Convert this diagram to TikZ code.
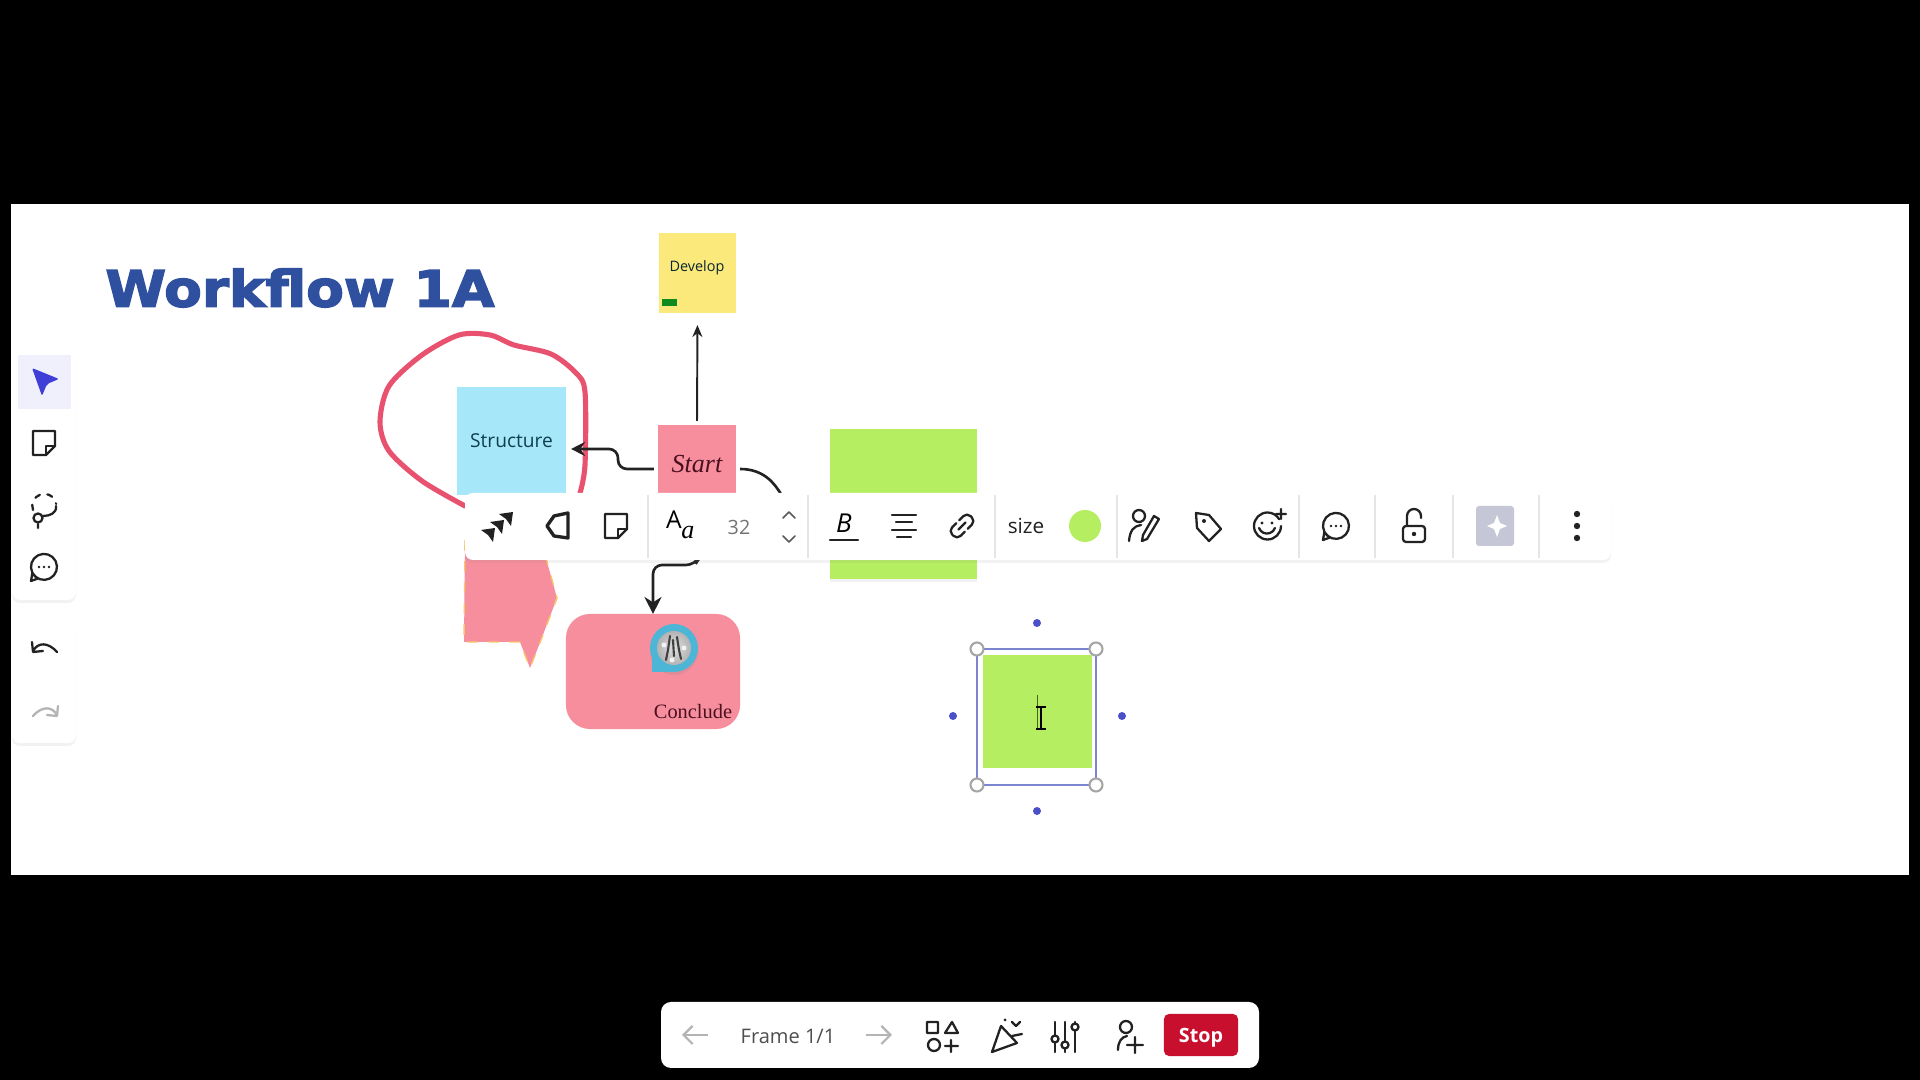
\documentclass[tikz,border=0pt]{standalone}
\usepackage{fontspec}
\setmainfont{Open Sans}
\newfontfamily\titlefont[BoldFeatures={FakeBold=3,FakeStretch=1.10}]{DejaVu Sans}
\newfontfamily\seriffont{Liberation Serif}
\usepackage{tikz}
\usetikzlibrary{arrows.meta,shadows}
\definecolor{boardblue}{HTML}{2F4F9F}
\definecolor{stickyyellow}{HTML}{FBE97C}
\definecolor{stickypink}{HTML}{F78E9E}
\definecolor{stickycyan}{HTML}{A6E7FA}
\definecolor{stickygreen}{HTML}{B6EE62}
\definecolor{marker}{HTML}{0E8A1E}
\definecolor{loopred}{HTML}{E8526F}
\definecolor{edgeorange}{HTML}{F9C46A}
\definecolor{framelilac}{HTML}{7C85D0}
\definecolor{dotblue}{HTML}{4A50C8}
\definecolor{pickblue}{HTML}{3F3FD8}
\definecolor{stopred}{HTML}{C8102E}
\definecolor{iconink}{HTML}{222222}
\definecolor{icongrey}{HTML}{B4B4B4}
\definecolor{avatarblue}{HTML}{4DB6D6}
\definecolor{inkteal}{HTML}{0F3F4F}
\definecolor{inkmaroon}{HTML}{4A1020}
\definecolor{sparkgrey}{HTML}{C5C6D6}
\tikzset{
	sticky/.style={inner sep=0, outer sep=0, rectangle},
	caption/.style={inner sep=0, font=\fontsize{5.3}{6}\selectfont},
	flow/.style={draw=iconink, line width=0.75pt, rounded corners=0.09cm},
	panel/.style={fill=white, rounded corners=0.08cm, drop shadow={opacity=0.10, shadow xshift=0cm, shadow yshift=-0.03cm}},
	icon/.style={draw=iconink, line width=0.65pt, line cap=round, line join=round},
	handle/.style={circle, draw=gray!70, fill=white, line width=0.6pt, inner sep=0, minimum size=0.13cm},
	dotmark/.style={circle, fill=dotblue, inner sep=0, minimum size=0.08cm},
	divider/.style={draw=gray!20, line width=0.3pt},
}
\newcommand{\stickyicon}[2]{
	\draw[icon] (#1-11,#2-12) -- (#1+11,#2-12) -- (#1+11,#2+3) -- (#1+2,#2+12) -- (#1-11,#2+12) -- cycle;
	\draw[icon] (#1+11,#2+3) -- (#1+2,#2+3) -- (#1+2,#2+12);
}
\newcommand{\commenticon}[2]{
	\draw[icon] (#1-11.6,#2+5.8) arc (153:-243:13) -- (#1-13,#2+14) -- cycle;
	\foreach \dotx in {-5,0,5} \fill[iconink] (#1+\dotx,#2) circle (1.3);
}
\begin{document}
\begin{tikzpicture}[x=0.01cm, y=-0.01cm]
	\useasboundingbox (0,0) rectangle (1920,1080);
	\fill[black] (0,0) rectangle (1920,1080);
	\fill[white] (11,204) rectangle (1909,875);
	%
	\node[inner sep=0, text=boardblue, font=\titlefont\bfseries\fontsize{14.2}{15}\selectfont] (title) at (300,288) {Workflow 1A};
	%
	% stickies
	\node[sticky, fill=stickyyellow, minimum width=0.77cm, minimum height=0.80cm] (develop) at (697.5,273) {};
	\node[caption, font=\fontsize{4.1}{5}\selectfont, text=inkteal!60!black] (developtext) at (697,268) {Develop};
	\fill[marker] (662,299) rectangle (677,306);
	\node[sticky, fill=stickycyan, minimum width=1.09cm, minimum height=1.08cm] (structure) at (511.5,441) {\fontsize{5.45}{6}\selectfont\color{inkteal}Structure};
	\node[sticky, fill=stickypink, minimum width=0.78cm, minimum height=0.78cm] (start) at (697,464) {\seriffont\itshape\fontsize{7.4}{8}\selectfont\color{inkmaroon}Start};
	\node[sticky, fill=stickygreen, minimum width=1.47cm, minimum height=1.50cm, drop shadow={opacity=0.10, shadow xshift=0cm, shadow yshift=-0.03cm}] (middle) at (903.5,504) {};
	\node[sticky, fill=stickypink, rounded corners=0.24cm, minimum width=1.74cm, minimum height=1.15cm] (conclude) at (653,671.5) {};
	\node[caption, font=\seriffont\fontsize{5.8}{6}\selectfont, text=inkmaroon] (concludetext) at (693,712) {Conclude};
	\node[sticky, fill=stickygreen, minimum width=1.09cm, minimum height=1.13cm] (selected) at (1037.5,711.5) {};
	%
	% torn shape
	\filldraw[fill=stickypink, draw=edgeorange, dashed, line width=0.4pt] (465,540) -- (464,642) -- (520,642) -- (530,668) -- (541,640) -- (557,598) -- (541,540) -- cycle;
	%
	% avatar
	\fill[avatarblue, drop shadow={opacity=0.2, shadow xshift=0cm, shadow yshift=-0.03cm}] (674,648) circle (24);
	\fill[avatarblue] (652,648) rectangle (672,672);
	\shade[inner color=gray!25, outer color=gray!60] (674,648) circle (17);
	\draw[gray!50!black, line width=0.6pt, line cap=round] (670,636) -- (668,650) -- (666,660) (677,637) -- (679,650) -- (681,659) (673,640) -- (674,656);
	\fill[gray!10] (664,645) circle (2.5) (684,648) circle (2.5) (672,660) circle (2.5);
	%
	% loop round the blue sticky
	\draw[loopred, line width=1.45pt, line cap=round] plot[smooth] coordinates {(465,506) (422,481) (389,451) (380,422) (389,386) (422,355) (459,335) (490,335) (514,345) (551,354) (576,373) (585,392) (585,465) (580,493)};
	%
	% connectors
	\draw[flow, line width=0.55pt, -{Stealth[length=0.12cm, width=0.10cm]}, shorten <=0.04cm, shorten >=0.12cm] (start.north) -- (develop.south);
	\draw[flow, -{Stealth[length=0.14cm, width=0.14cm]}, shorten <=0.04cm, shorten >=0.05cm] ([yshift=-0.05cm]start.west) -- (618,469) -- (618,449) -- ([yshift=-0.08cm]structure.east);
	\draw[flow, -{Stealth[length=0.17cm, width=0.17cm]}, shorten <=0.04cm] ([yshift=-0.05cm]start.east) .. controls (765,469) and (775,485) .. (785,500) .. controls (800,530) and (720,540) .. (700,556) -- (695,565) -- (653,565) -- (conclude.north);
	%
	% selection frame
	\draw[framelilac, line width=0.55pt] (977,649) rectangle (1096,785);
	\node[handle] (handlea) at (977,649) {};
	\node[handle] (handleb) at (1096,649) {};
	\node[handle] (handlec) at (977,785) {};
	\node[handle] (handled) at (1096,785) {};
	\node[dotmark] (dotn) at (1037,623) {};
	\node[dotmark] (dots) at (1037,811) {};
	\node[dotmark] (dotw) at (953,716) {};
	\node[dotmark] (dote) at (1122,716) {};
	\draw[black!60!stickygreen, line width=0.25pt] (1037,695) -- (1037,730);
	\draw[black, line width=0.35pt] (1041,708) -- (1041,728) (1036,707) -- (1046,707) (1036,729) -- (1046,729);
	%
	% floating toolbar
	\fill[panel] (465,493) rectangle (1611,560);
	\foreach \sepx in {648,808,995,1117,1299,1375,1453,1539}
		\draw[divider] (\sepx,495) -- (\sepx,558);
	\fill[iconink] (495,528) -- (481,530) -- (488,535) -- (493,542) -- cycle;
	\fill[iconink] (504,520) -- (490,522) -- (497,527) -- (502,534) -- cycle;
	\fill[iconink] (513,512) -- (499,514) -- (506,519) -- (511,526) -- cycle;
	\draw[icon, line width=0.95pt] (547,526) -- (554,516) -- (568,513) -- (568,538) -- (554,536) -- cycle;
	\stickyicon{616}{526}
	\node[inner sep=0, font=\fontsize{7}{8}\selectfont] (fonta) at (674,520) {A};
	\node[inner sep=0, font=\seriffont\itshape\fontsize{7.4}{8}\selectfont] (fontb) at (688,533) {a};
	\node[inner sep=0, text=gray!90!black, font=\fontsize{5.6}{6}\selectfont] (fontsize) at (739,527) {32};
	\draw[icon, gray!70!black, line width=0.45pt] (783,518) -- (789,512) -- (795,518) (783,536) -- (789,542) -- (795,536);
	\node[inner sep=0, font=\itshape\fontsize{7.4}{8}\selectfont] (bold) at (844,523) {B};
	\draw[icon] (830,540) -- (858,540);
	\draw[icon] (892,515) -- (916,515) (896,522) -- (912,522) (892,530) -- (916,530) (897,537) -- (911,537);
	\draw[icon, rotate around={45:(962,526)}, rounded corners=0.05cm] (960,520) -- (949,520) -- (949,532) -- (960,532) (964,520) -- (975,520) -- (975,532) -- (964,532);
	\draw[icon, rotate around={45:(962,526)}] (957,526) -- (967,526);
	\node[inner sep=0, text=iconink, font=\fontsize{5.9}{6}\selectfont] (sizetext) at (1026,526) {size};
	\fill[stickygreen] (1085,526) circle (16);
	\draw[icon] (1139,516) circle (6) (1129,541) .. controls (1130,530) and (1134,526) .. (1141,525) (1159,519) -- (1147,539) -- (1142,541) -- (1143,535) -- (1154,516) -- cycle;
	\draw[icon] (1196,513) -- (1209,515) -- (1221,529) -- (1209,541) -- (1197,528) -- cycle;
	\fill[iconink] (1204,521) circle (2);
	\draw[icon] (1281,526) arc (0:330:13.5);
	\fill[iconink] (1262,523) circle (1.6) (1272,523) circle (1.6);
	\draw[icon] (1259,528) arc (160:20:8.5) (1276,514) -- (1286,514) (1281,509) -- (1281,519);
	\commenticon{1336}{526}
	\draw[icon, rounded corners=0.03cm] (1403,526) rectangle (1425,542);
	\draw[icon] (1407,526) -- (1407,516) arc (180:360:7) -- (1421,518);
	\fill[iconink] (1414,534) circle (2.2);
	\fill[sparkgrey, rounded corners=0.03cm] (1476,506) rectangle (1514,546);
	\fill[white] (1497,515) -- (1500,523) -- (1507,526) -- (1500,529) -- (1497,537) -- (1494,529) -- (1487,526) -- (1494,523) -- cycle;
	\fill[iconink] (1577,514) circle (3.2) (1577,526) circle (3.2) (1577,538) circle (3.2);
	%
	% left rail
	\fill[panel] (12,349) rectangle (76,600);
	\fill[panel] (12,617) rectangle (76,743);
	\fill[pickblue!8!white] (18,355) rectangle (71,409);
	\fill[pickblue, rounded corners=0.02cm] (32,368) -- (59,379) -- (47,384) -- (42,396) -- cycle;
	\stickyicon{44}{443}
	\draw[icon, dash pattern=on 1.5pt off 2.2pt] (33,510) arc (160:350:12);
	\draw[icon] (56,506) .. controls (57,513) and (50,516) .. (43,516) (38,524) -- (38,528);
	\draw[icon] (38,518) circle (4.5);
	\commenticon{44}{567}
	\draw[icon] (32,642) -- (33,652) -- (43,651) (33,651) .. controls (38,642) and (48,642) .. (57,652);
	\draw[icon, icongrey] (58,706) -- (57,716) -- (47,715) (57,715) .. controls (52,706) and (42,706) .. (33,716);
	%
	% bottom bar
	\fill[white, rounded corners=0.10cm] (661,1002) rectangle (1259,1068);
	\draw[icongrey, line width=0.65pt, -{Straight Barb[length=0.09cm, width=0.18cm]}] (708,1035) -- (682,1035);
	\node[inner sep=0, text=iconink!80, font=\fontsize{5.7}{6}\selectfont] (frametext) at (788,1036) {Frame 1/1};
	\draw[icongrey, line width=0.65pt, -{Straight Barb[length=0.09cm, width=0.18cm]}] (866,1035) -- (892,1035);
	\draw[icon] (927,1022) rectangle (938,1033) (934,1045) circle (6);
	\draw[icon] (945,1033) -- (952,1022) -- (958,1033) -- cycle (945,1046) -- (958,1046) (951,1040) -- (951,1052);
	\draw[icon] (992,1052) -- (1001,1026) -- (1017,1043) -- cycle;
	\draw[icon] (1012,1022) -- (1016,1026) -- (1020,1022) (1012,1036) -- (1022,1034);
	\fill[iconink] (1005,1020) circle (1.5);
	\draw[icon] (1055,1022) -- (1055,1052) (1065,1022) -- (1065,1052) (1075,1022) -- (1075,1052);
	\filldraw[icon, fill=white] (1055,1039) circle (3.5) (1065,1045) circle (3.5) (1075,1027) circle (3.5);
	\draw[icon] (1126,1027) circle (6) (1118,1050) .. controls (1118,1041) and (1122,1037) .. (1127,1036) (1127,1045) -- (1143,1045) (1135,1037) -- (1135,1053);
	\node[fill=stopred, rounded corners=0.05cm, inner sep=0, minimum width=0.74cm, minimum height=0.42cm, text depth=0pt, text=white, font=\bfseries\fontsize{5.6}{6}\selectfont] (stop) at (1201,1035) {Stop};
\end{tikzpicture}
\end{document}
